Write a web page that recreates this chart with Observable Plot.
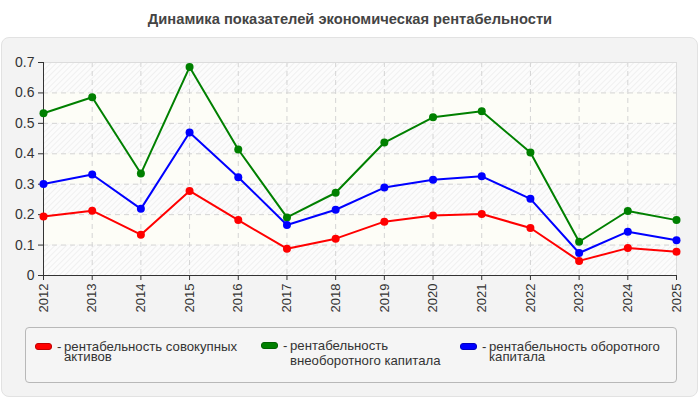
<!DOCTYPE html>
<html>
<head>
<meta charset="utf-8">
<script src="https://cdn.jsdelivr.net/npm/d3@7"></script>
<script src="https://cdn.jsdelivr.net/npm/@observablehq/plot@0.6"></script>
<style>
  body { margin:0; background:#fff; font-family:"Liberation Sans", Arial, sans-serif; }
  #wrap { position:relative; width:700px; height:400px; overflow:hidden; }
  #title { position:absolute; left:0; top:11px; width:700px; text-align:center; font-weight:bold; font-size:14.7px; color:#444; }
  #panel { position:absolute; left:1px; top:37px; width:695px; height:358px; background:#f3f3f3; border:1px solid #e2e2e2; border-radius:8px; }
  #chart { position:absolute; left:0; top:0; }
  #legend { position:absolute; left:25px; top:327px; width:652px; height:56px; border:1px solid #b8b8b8; border-radius:4px; background:#f5f5f5; box-sizing:border-box; }
  .item { position:absolute; display:flex; align-items:flex-start; font-size:13.2px; color:#333; }
  .sw { width:17px; height:7px; border-radius:3px; margin-right:5px; box-sizing:border-box; }
  .dash { width:7px; }
</style>
</head>
<body>
<div id="wrap">
  <div id="title"></div>
  <div id="panel"></div>
  <div id="chart"></div>
  <div id="legend"></div>
</div>
<script>
const title = "Динамика показателей экономическая рентабельности";
const years = ["2012","2013","2014","2015","2016","2017","2018","2019","2020","2021","2022","2023","2024","2025"];
const seriesNames = ["рентабельность совокупных активов", "рентабельность внеоборотного капитала", "рентабельность оборотного капитала"];
const seriesColors = ["#ff0000", "#008000", "#0000ff"];
const redValues   = [0.194, 0.213, 0.134, 0.278, 0.182, 0.088, 0.121, 0.177, 0.197, 0.202, 0.156, 0.048, 0.090, 0.078];
const greenValues = [0.533, 0.586, 0.335, 0.685, 0.414, 0.191, 0.272, 0.437, 0.520, 0.540, 0.404, 0.111, 0.212, 0.182];
const blueValues  = [0.301, 0.332, 0.219, 0.470, 0.323, 0.166, 0.216, 0.289, 0.315, 0.326, 0.252, 0.074, 0.144, 0.116];
const yTicks = [0, 0.1, 0.2, 0.3, 0.4, 0.5, 0.6, 0.7];

document.getElementById("title").textContent = title;

const allValues = [redValues, greenValues, blueValues];
const data = [];
allValues.forEach((vals, s) => vals.forEach((v, i) => data.push({year: years[i], value: v, series: seriesNames[s]})));

const bands = yTicks.slice(0, -1).map((t, i) => ({y1: t, y2: yTicks[i + 1], hatch: i % 2 === 0}));

const plot = Plot.plot({
  width: 700,
  height: 330,
  marginLeft: 43,
  marginRight: 24,
  marginTop: 62,
  marginBottom: 55,
  style: {background: "transparent", fontFamily: "'Liberation Sans', Arial, sans-serif", color: "#333"},
  x: {type: "point", domain: years, padding: 0, round: false},
  y: {domain: [0, 0.7]},
  color: {domain: seriesNames, range: seriesColors},
  marks: [
    Plot.rect(bands.filter(d => d.hatch), {y1: "y1", y2: "y2", fill: "url(#hatchPat)"}),
    Plot.rect(bands.filter(d => !d.hatch), {y1: "y1", y2: "y2", fill: "#fdfdf7"}),
    Plot.gridY(yTicks, {stroke: "#d4d4d4", strokeOpacity: 1, strokeDasharray: "5,4"}),
    Plot.gridX(years, {stroke: "#d4d4d4", strokeOpacity: 1, strokeDasharray: "5,4"}),
    Plot.frame({stroke: "#dcdcdc"}),
    Plot.axisY(yTicks, {tickSize: 5, tickPadding: 4, fontSize: 14, tickFormat: d => String(d), stroke: "#333", label: null}),
    Plot.axisX(years, {tickSize: 5, tickPadding: 3, fontSize: 13, tickRotate: -90, stroke: "#333", label: null}),
    Plot.ruleX([years[0]], {stroke: "#333"}),
    Plot.ruleY([0], {stroke: "#333"}),
    Plot.line(data, {x: "year", y: "value", z: "series", stroke: "series", strokeWidth: 2}),
    Plot.dot(data, {x: "year", y: "value", fill: "series", r: 4})
  ]
});

const svg = d3.select(plot);
const defs = svg.insert("defs", ":first-child");
const pat = defs.append("pattern")
  .attr("id", "hatchPat")
  .attr("patternUnits", "userSpaceOnUse")
  .attr("width", 4).attr("height", 4)
  .attr("patternTransform", "rotate(45)");
pat.append("rect").attr("width", 4).attr("height", 4).attr("fill", "#fcfcfc");
pat.append("line").attr("x1", 0).attr("y1", 0).attr("x2", 0).attr("y2", 4).attr("stroke", "#e8e8e8").attr("stroke-width", 1.2);

document.getElementById("chart").appendChild(plot);

const legend = document.getElementById("legend");
const lefts = [9, 235, 434];
const tops = [13.5, 10, 13.5];
const lineHeights = [10.5, 15.4, 10.5];
const swatchOffsets = [1, 4, 1];
const widths = [182, 172, 188];
seriesNames.forEach((name, i) => {
  const item = document.createElement("div");
  item.className = "item";
  item.style.left = lefts[i] + "px";
  item.style.top = tops[i] + "px";
  item.style.lineHeight = lineHeights[i] + "px";
  const sw = document.createElement("div");
  sw.className = "sw";
  sw.style.marginTop = swatchOffsets[i] + "px";
  sw.style.background = seriesColors[i];
  sw.style.border = "1px solid " + d3.color(seriesColors[i]).darker(0.8);
  const dash = document.createElement("div");
  dash.className = "dash";
  dash.textContent = "-";
  const txt = document.createElement("div");
  txt.style.width = widths[i] + "px";
  txt.textContent = name;
  item.appendChild(sw);
  item.appendChild(dash);
  item.appendChild(txt);
  legend.appendChild(item);
});
</script>
</body>
</html>
